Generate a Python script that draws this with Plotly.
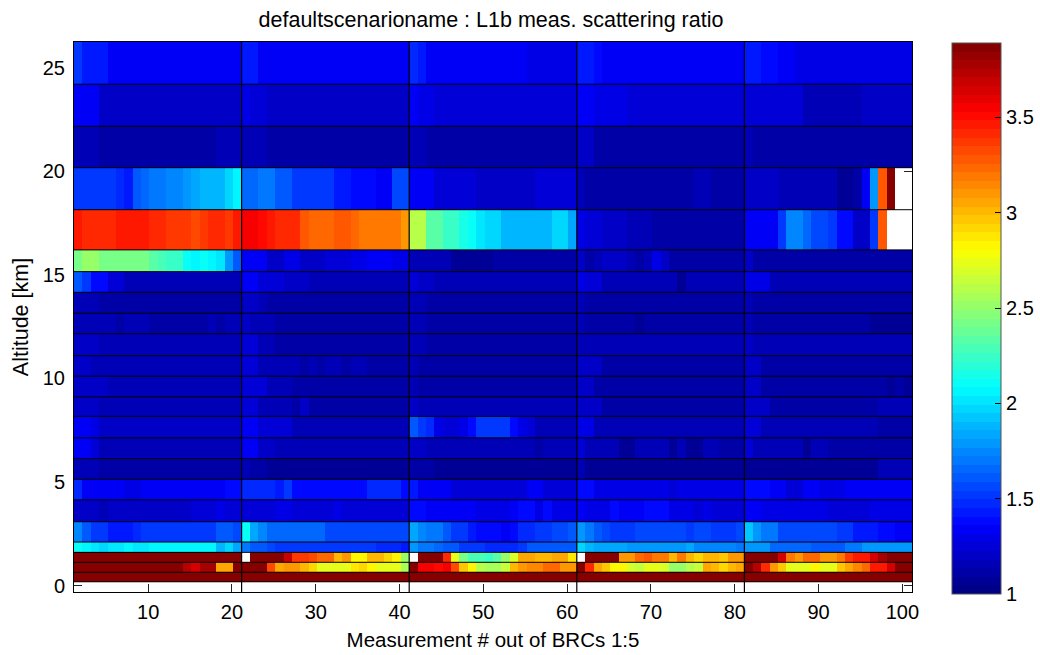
import plotly.graph_objects as go

# ---- data (top row first). Entries: value or (value, repeat) ----
x_tick_values = [10, 20, 30, 40, 50, 60, 70, 80, 90, 100]
y_tick_values = [0, 5, 10, 15, 20, 25]
cbar_tick_values = [1, 1.5, 2, 2.5, 3, 3.5]
cbar_tick_labels = ["1", "1.5", "2", "2.5", "3", "3.5"]
brc_separators = [21, 41, 61, 81]
altitude_edges = [26.25, 24.21, 22.18, 20.18, 18.15, 16.21, 15.16, 14.16, 13.15, 12.16, 11.10, 10.11,
                  9.11, 8.17, 7.13, 6.13, 5.13, 4.14, 3.08, 2.10, 1.60, 1.12, 0.64, 0.18]

r00 = [(1.5,1),(1.45,1),(1.41,2),(1.36,6),(1.33,1),(1.36,1),(1.33,8),
       (1.45,1),(1.42,1),(1.36,3),(1.35,5),(1.32,10),
       (1.46,1),(1.42,1),(1.36,3),(1.33,1),(1.35,2),(1.33,4),(1.35,2),(1.31,6),
       (1.45,1),(1.42,1),(1.4,1),(1.36,3),(1.32,14),
       (1.45,1),(1.41,1),(1.39,2),(1.36,2),(1.31,14)]
r01 = [(1.34,3),(1.22,17),
       (1.3,1),(1.25,2),(1.22,17),
       (1.34,1),(1.3,2),(1.25,17),
       (1.35,2),(1.28,4),(1.23,14),
       (1.27,2),(1.23,5),(1.18,7),(1.22,6)]
r02 = [(1.17,3),(1.12,14),(1.14,3),
       (1.17,3),(1.12,17),
       (1.18,2),(1.13,18),
       (1.2,2),(1.12,18),
       (1.16,1),(1.11,19)]
r03 = [1.54,1.54,1.5,1.52,1.52,1.47,1.45,1.6,1.64,1.72,1.72,1.74,1.74,1.77,1.84,1.86,1.9,1.9,1.99,2.08,
       (1.66,2),(1.7,2),(1.62,2),(1.53,3),(1.5,2),(1.42,2),(1.38,3),(1.36,2),(1.56,2),
       (1.34,3),(1.27,5),(1.22,3),(1.19,4),(1.24,5),
       (1.17,1),(1.12,13),(1.18,2),(1.12,4),
       (1.22,4),(1.17,5),(1.14,2),(1.07,2),(1.12,1),1.36,1.8,3.28,3.89,(None,2)]
r04 = [(3.46,1),(3.42,4),(3.47,4),(3.42,2),(3.38,3),(3.33,1),(3.38,1),(3.41,2),(3.35,1),(3.47,1),
       3.57,3.53,3.49,3.44,(3.4,3),3.28,(3.23,3),(3.29,2),3.23,(3.19,2),(3.17,3),3.1,
       2.6,2.6,2.33,2.33,2.22,2.22,2.17,2.1,2.0,1.97,1.97,1.9,1.86,1.86,1.86,1.86,1.86,1.95,1.95,1.82,
       (1.3,1),(1.24,2),(1.2,3),(1.16,3),(1.12,11),
       (1.32,4),1.54,(1.76,2),1.66,(1.56,2),1.52,(1.38,2),(1.2,2),1.54,3.3,(None,3)]
r05 = [2.4,2.53,2.53,(2.44,3),(2.42,3),2.33,2.27,2.22,2.22,2.1,2.05,2.1,2.07,2.0,1.8,1.6,
       (1.34,3),(1.22,2),(1.28,2),(1.2,3),(1.24,3),(1.3,2),(1.34,3),(1.3,2),
       (1.18,2),(1.14,3),(1.08,5),(1.1,10),
       1.2,1.1,1.14,(1.2,3),1.16,1.1,1.15,1.28,1.2,(1.1,9),
       (1.2,1),(1.13,3),(1.1,16)]
r06 = [1.6,1.5,(1.38,2),(1.26,2),(1.18,14),
       (1.35,2),(1.24,3),(1.2,3),(1.16,12),
       (1.26,1),(1.22,2),(1.18,17),
       (1.3,1),(1.26,2),(1.18,3),(1.16,6),(1.08,1),(1.16,7),
       (1.28,3),(1.16,17)]
r07 = [(1.18,3),(1.13,17),
       (1.2,2),(1.16,1),(1.12,17),
       (1.18,2),(1.12,18),
       (1.16,1),(1.1,19),
       (1.16,1),(1.1,19)]
r08 = [(1.18,2),(1.14,3),(1.1,1),(1.15,3),(1.1,7),(1.15,1),(1.1,1),(1.15,2),
       (1.2,1),(1.16,3),(1.12,16),
       (1.17,2),(1.12,18),
       (1.18,1),(1.12,6),(1.06,1),(1.12,12),
       (1.18,1),(1.12,14),(1.06,5)]
r09 = [(1.2,3),(1.14,17),
       (1.23,2),(1.18,2),(1.13,16),
       (1.18,2),(1.13,18),
       (1.18,1),(1.14,19),
       (1.2,1),(1.14,19)]
r10 = [(1.2,2),(1.14,18),
       (1.23,2),(1.16,5),(1.1,1),(1.14,1),(1.1,1),(1.14,2),(1.1,1),(1.14,2),(1.1,5),
       (1.18,1),(1.12,19),
       (1.22,3),(1.1,17),
       (1.2,2),(1.1,18)]
r11 = [(1.22,4),(1.14,16),
       (1.25,3),(1.18,3),(1.1,14),
       (1.16,1),(1.11,19),
       (1.2,2),(1.1,18),
       (1.2,2),(1.1,15),(1.06,1),(1.1,1),(1.05,1)]
r12 = [(1.2,3),(1.14,17),
       (1.25,2),(1.18,4),(1.12,1),(1.2,1),(1.13,12),
       (1.2,1),(1.14,19),
       (1.2,3),(1.13,17),
       (1.2,3),(1.12,13),(1.18,4)]
r13 = [(1.36,2),(1.3,1),(1.22,17),
       (1.34,2),(1.24,4),(1.18,14),
       1.63,1.54,1.46,1.3,1.26,1.26,1.3,1.37,(1.52,4),1.38,1.3,1.24,(1.18,5),
       (1.3,2),(1.16,18),
       (1.24,2),(1.16,14),(1.12,4)]
r14 = [(1.34,2),(1.26,1),(1.18,17),
       (1.32,2),(1.22,2),(1.14,16),
       (1.22,2),(1.16,13),(1.1,1),(1.17,4),
       (1.24,1),(1.16,4),(1.08,2),(1.16,4),(1.08,1),(1.14,1),(1.08,2),(1.15,2),(1.1,3),
       (1.24,1),(1.16,6),(1.08,1),(1.14,2),(1.1,10)]
r15 = [(1.15,3),(1.1,17),
       (1.17,1),(1.13,2),(1.09,17),
       (1.12,3),(1.08,17),
       (1.17,1),(1.08,19),
       (1.09,16),(1.16,4)]
r16 = [(1.47,1),(1.36,5),(1.3,2),(1.32,9),(1.36,1),(1.4,2),
       (1.47,4),(1.43,1),(1.5,1),(1.4,9),(1.46,4),(1.4,1),
       (1.42,1),(1.33,4),(1.27,9),(1.32,2),(1.27,4),
       (1.38,2),(1.3,9),(1.26,1),(1.3,8),
       (1.37,3),(1.32,2),(1.27,2),(1.33,2),(1.28,3),(1.32,6),(1.36,2)]
r17 = [(1.2,3),(1.15,1),(1.2,10),(1.24,3),(1.28,1),(1.24,2),
       (1.26,4),(1.3,2),(1.26,5),(1.3,1),(1.25,8),
       (1.38,2),(1.36,6),(1.28,4),(1.32,1),(1.37,2),(1.3,1),(1.37,1),(1.28,3),
       (1.36,1),(1.3,3),(1.37,1),(1.32,3),(1.37,3),(1.3,3),(1.24,1),(1.3,1),(1.24,2),(1.27,2),
       (1.34,2),(1.3,8),(1.26,5),(1.3,5)]
r18 = [(1.76,1),(1.62,1),(1.5,2),(1.45,2),(1.41,1),(1.47,1),(1.5,7),(1.54,2),(1.6,2),(1.56,1),
       (2.1,1),(1.85,1),(1.76,1),(1.64,7),(1.58,10),
       1.84,1.74,1.7,1.7,1.62,1.5,1.5,1.42,1.37,1.37,1.37,1.34,1.4,1.47,1.47,1.53,1.53,1.58,1.58,1.62,
       1.78,1.7,1.6,1.55,1.5,1.5,1.5,1.55,1.55,1.58,1.58,1.55,1.58,1.54,1.56,1.58,1.54,1.52,1.5,1.56,
       (1.92,1),(1.8,1),(1.72,2),(1.58,7),(1.52,2),(1.44,3),(1.4,2),(1.36,2)]
r19 = [2.1,2.05,2.0,1.97,2.02,2.02,2.07,2.02,2.02,(2.08,8),1.9,1.96,1.84,
       (1.68,1),(1.62,2),(1.57,1),(1.52,12),(1.48,3),(1.44,1),
       (1.78,1),(1.72,2),(1.66,1),(1.62,2),(1.52,3),(1.47,4),(1.53,1),(1.62,6),
       (1.96,1),(1.88,1),(1.84,4),(1.78,7),(1.84,1),(1.74,5),(1.7,1),
       (1.77,3),(1.67,5),(1.62,4),(1.7,2),(1.78,6)]
r20 = [(3.89,20),
       None,(3.89,4),3.7,(3.35,2),3.33,(3.22,2),3.0,3.08,(2.85,2),(3.03,2),2.9,2.82,2.53,
       None,(3.89,3),3.4,2.72,2.44,2.27,2.27,2.25,2.35,2.53,2.68,3.04,3.04,3.0,3.0,3.05,3.05,2.88,
       None,(3.89,4),(3.12,2),3.22,3.3,(3.17,2),3.02,3.2,3.0,2.92,(3.02,2),2.95,(3.1,2),
       (3.89,4),3.62,3.17,3.08,(3.22,2),3.08,3.12,3.2,3.35,(3.48,2),3.66,3.78,(3.89,3)]
r21 = [(3.89,13),(3.72,1),(3.62,1),(3.78,2),(3.06,2),(3.89,1),
       (3.89,3),3.33,3.05,(3.1,2),3.0,2.9,(2.75,4),2.87,2.92,2.81,(2.75,3),2.58,
       3.89,3.55,3.55,3.5,3.55,3.33,2.98,2.81,2.62,2.58,2.58,2.64,3.0,3.12,3.15,3.15,3.25,3.25,3.08,3.08,
       3.89,3.4,3.05,2.98,2.85,2.81,2.68,2.65,2.72,2.72,2.7,2.53,2.53,2.6,2.65,3.06,3.0,2.92,3.0,3.06,
       3.89,3.72,3.4,3.1,2.95,(2.75,3),2.81,(2.75,2),2.98,3.05,3.15,3.22,(3.48,2),3.66,(3.89,2)]
r22 = [(3.89,100)]
rows_top_down = [r00, r01, r02, r03, r04, r05, r06, r07, r08, r09, r10, r11,
                 r12, r13, r14, r15, r16, r17, r18, r19, r20, r21, r22]


def expand(row):
    out = []
    for item in row:
        if isinstance(item, tuple):
            out.extend([item[0]] * item[1])
        else:
            out.append(item)
    assert len(out) == 100, len(out)
    return out


# ---- styling ----
FONT = "Liberation Sans"
FS = 20
FS_TITLE = 21.5
FS_XLABEL = 20.5
X_SHIFT = 0.15          # the reference's cells sit a touch right of its ticks
Z_MIN, Z_MAX = 1, 3.89
L, R, T, B = 74, 128, 42, 63
PLOT_W, PLOT_H = 1040 - L - R, 655 - T - B


def jet_rgb(t):
    def ramp(c):
        return max(0.0, min(1.0, 1.5 - abs(4 * t - c)))
    return tuple(round(255 * ramp(c)) for c in (3, 2, 1))


N = 64
colorscale = []
for k in range(N):
    r, g, b = jet_rgb((k + 0.5) / N)
    col = f"rgb({r},{g},{b})"
    colorscale.append([k / N, col])
    colorscale.append([(k + 1) / N, col])

x_edges = [1 + X_SHIFT + i for i in range(101)]
y_edges = altitude_edges[::-1]
z = [expand(r) for r in rows_top_down][::-1]

fig = go.Figure(go.Heatmap(
    x=x_edges, y=y_edges, z=z, zmin=Z_MIN, zmax=Z_MAX, zsmooth=False,
    colorscale=colorscale,
    colorbar=dict(
        thickness=49, thicknessmode="pixels", len=551, lenmode="pixels",
        x=(952 - L) / PLOT_W, xanchor="left", xpad=0,
        y=-2 / PLOT_H, yanchor="bottom", ypad=0,
        tickvals=cbar_tick_values, ticktext=cbar_tick_labels,
        ticks="inside", ticklen=6, tickwidth=1, tickcolor="black",
        tickfont=dict(family=FONT, size=FS, color="black"),
        outlinecolor="#555555", outlinewidth=1,
    ),
))

shapes = []
for e in altitude_edges[1:]:
    shapes.append(dict(type="line", xref="paper", x0=0, x1=1, yref="y", y0=e, y1=e,
                       line=dict(color="black", width=1)))
for s in brc_separators:
    shapes.append(dict(type="line", xref="x", x0=s + X_SHIFT, x1=s + X_SHIFT, yref="paper", y0=0, y1=1,
                       line=dict(color="black", width=1.2)))
# mirrored left-hand colourbar ticks
for v in cbar_tick_values[1:]:
    yp = (-2 + 551 * (v - Z_MIN) / (Z_MAX - Z_MIN)) / PLOT_H
    shapes.append(dict(type="line", xref="paper", yref="paper", y0=yp, y1=yp,
                       x0=(952 - L) / PLOT_W, x1=(958 - L) / PLOT_W,
                       line=dict(color="black", width=1)))

axis_common = dict(
    showgrid=False, zeroline=False, showline=True, linecolor="black", linewidth=1,
    mirror="allticks", ticks="inside", ticklen=8, tickwidth=1, tickcolor="#222222",
    tickfont=dict(family=FONT, size=FS, color="black"), layer="below traces",
)

fig.update_layout(
    width=1040, height=655, autosize=False,
    margin=dict(l=L, r=R, t=T, b=B, pad=0, autoexpand=False),
    paper_bgcolor="white", plot_bgcolor="white",
    font=dict(family=FONT, color="black", size=FS),
    title=dict(text="defaultscenarioname : L1b meas. scattering ratio",
               x=491 / 1040, xanchor="center", xref="container", y=1 - 19 / 655, yanchor="middle",
               font=dict(family=FONT, size=FS_TITLE, color="black")),
    xaxis=dict(range=[1 + X_SHIFT, 101 + X_SHIFT], tickvals=x_tick_values, ticklabelstandoff=2,
               title=dict(text="Measurement # out of BRCs 1:5", standoff=10,
                          font=dict(family=FONT, size=FS_XLABEL, color="black")),
               **axis_common),
    yaxis=dict(range=[-0.314, altitude_edges[0]], tickvals=y_tick_values, ticklabelstandoff=4,
               title=dict(text="Altitude [km]", standoff=8,
                          font=dict(family=FONT, size=FS_TITLE, color="black")),
               **axis_common),
    shapes=shapes,
)

fig.write_html("out.html", config={"displayModeBar": False}, post_script="document.body.style.margin='0';")
